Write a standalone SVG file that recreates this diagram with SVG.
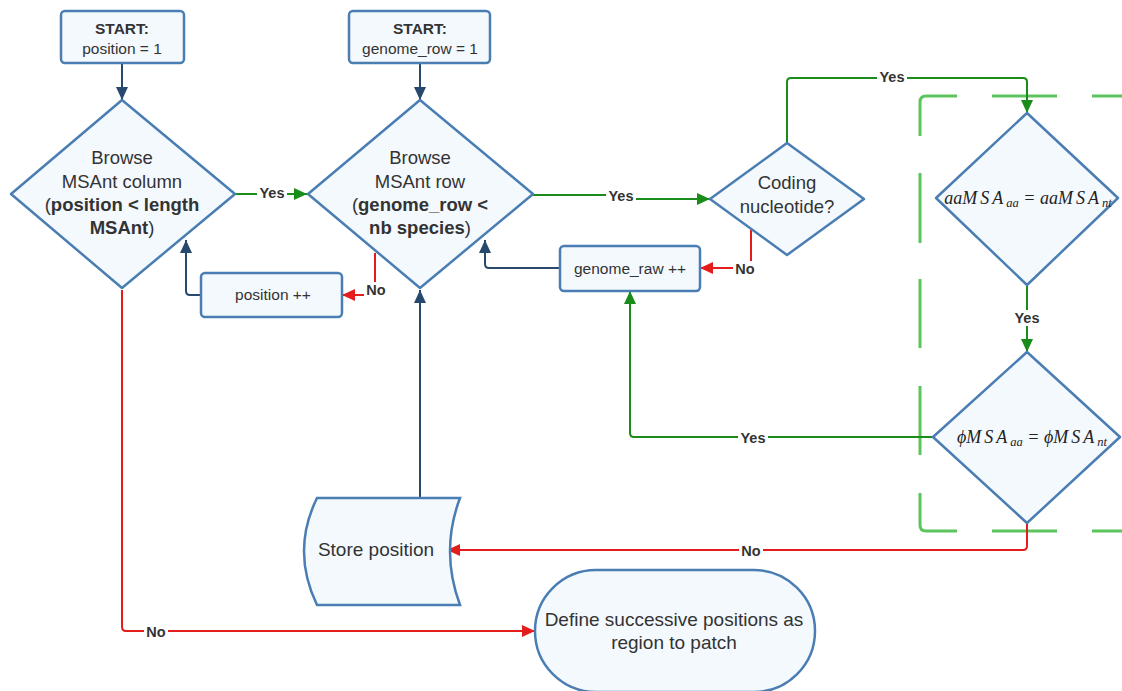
<svg xmlns="http://www.w3.org/2000/svg" width="1122" height="691" viewBox="0 0 1122 691">
<style>
.node{fill:#f4f9fe;stroke:#4a7eb3;stroke-width:2.5}
.t{font-family:"Liberation Sans",Arial,sans-serif;fill:#333;text-anchor:middle}
.big{font-size:18.5px}
.big2{font-size:19px}
.sm{font-size:15.5px}
.b{font-weight:bold}
.lbl{font-family:"Liberation Sans",Arial,sans-serif;font-size:14.5px;font-weight:bold;fill:#333;text-anchor:middle}
.math{font-family:"Liberation Serif","Times New Roman",serif;font-style:italic;font-size:18px;fill:#222;text-anchor:middle}
.sp{letter-spacing:3px}
.sub{font-size:12.5px}
.cb{fill:none;stroke:#27496e;stroke-width:2}
.cg{fill:none;stroke:#1a8c1a;stroke-width:2}
.cr{fill:none;stroke:#e51c1c;stroke-width:2}
.lblbg{fill:#fff}
.dash{fill:none;stroke:#5cc45c;stroke-width:3}
</style>
<defs>
<marker id="ab" markerUnits="userSpaceOnUse" markerWidth="14" markerHeight="12" refX="13" refY="6" orient="auto"><path d="M0,0 L13,6 L0,12 Z" fill="#27496e"/></marker>
<marker id="ag" markerUnits="userSpaceOnUse" markerWidth="14" markerHeight="12" refX="13" refY="6" orient="auto"><path d="M0,0 L13,6 L0,12 Z" fill="#1a8c1a"/></marker>
<marker id="ar" markerUnits="userSpaceOnUse" markerWidth="14" markerHeight="12" refX="13" refY="6" orient="auto"><path d="M0,0 L13,6 L0,12 Z" fill="#e51c1c"/></marker>
</defs>

<g id="group-boundary">
  <path class="dash" d="M920,136 V102 Q920,96 926,96 H957"/>
  <path class="dash" d="M992,96 H1057 M1092,96 H1122"/>
  <path class="dash" d="M920,173 V243 M920,279 V348 M920,386 V455"/>
  <path class="dash" d="M920,493 V525 Q920,531 926,531 H957"/>
  <path class="dash" d="M992,531 H1057 M1092,531 H1122"/>
</g>

<g id="connectors">
  <path class="cb" d="M122,63 V100" marker-end="url(#ab)"/>
  <path class="cb" d="M420,63 V100" marker-end="url(#ab)"/>
  <path class="cg" d="M235,194 H307" marker-end="url(#ag)"/>
  <path class="cb" d="M201,295 H190 Q186,295 186,291 V240" marker-end="url(#ab)"/>
  <path class="cr" d="M375,253 V295 H342" marker-end="url(#ar)"/>
  <path class="cg" d="M533,195 H621 V199 H710" marker-end="url(#ag)"/>
  <path class="cg" d="M787,143 V82 Q787,78 791,78 H1023 Q1027,78 1027,82 V113" marker-end="url(#ag)"/>
  <path class="cr" d="M751,230 V268 H700" marker-end="url(#ar)"/>
  <path class="cb" d="M560,268 H489 Q485,268 485,264 V240" marker-end="url(#ab)"/>
  <path class="cg" d="M1027,285 V352" marker-end="url(#ag)"/>
  <path class="cg" d="M933,437 H634 Q630,437 630,433 V291" marker-end="url(#ag)"/>
  <path class="cr" d="M1027,523 V546 Q1027,550 1023,550 H447" marker-end="url(#ar)"/>
  <path class="cb" d="M420,498 V290" marker-end="url(#ab)"/>
  <path class="cr" d="M122,290 V627 Q122,631 126,631 H535" marker-end="url(#ar)"/>
  <rect class="lblbg" x="257" y="185" width="30" height="16"/>
  <text class="lbl" x="272" y="198">Yes</text>
  <rect class="lblbg" x="364" y="282" width="24" height="15"/>
  <text class="lbl" x="376" y="295">No</text>
  <rect class="lblbg" x="606" y="188" width="30" height="16"/>
  <text class="lbl" x="621" y="201">Yes</text>
  <rect class="lblbg" x="877" y="69" width="30" height="16"/>
  <text class="lbl" x="892" y="82">Yes</text>
  <rect class="lblbg" x="733" y="261" width="24" height="15"/>
  <text class="lbl" x="745" y="274">No</text>
  <rect class="lblbg" x="1012" y="310" width="30" height="16"/>
  <text class="lbl" x="1027" y="323">Yes</text>
  <rect class="lblbg" x="738" y="430" width="30" height="16"/>
  <text class="lbl" x="753" y="443">Yes</text>
  <rect class="lblbg" x="739" y="543" width="24" height="15"/>
  <text class="lbl" x="751" y="556">No</text>
  <rect class="lblbg" x="144" y="624" width="24" height="15"/>
  <text class="lbl" x="156" y="637">No</text>
</g>

<g id="start-position">
  <rect class="node" x="61" y="11" width="123" height="52" rx="4"/>
  <text class="t sm b" x="122" y="34">START:</text>
  <text class="t sm" x="122" y="54">position = 1</text>
</g>
<g id="start-genome-row">
  <rect class="node" x="349" y="11" width="141" height="52" rx="4"/>
  <text class="t sm b" x="420" y="34">START:</text>
  <text class="t sm" x="420" y="54">genome_row = 1</text>
</g>
<g id="browse-column">
  <path class="node" d="M122,100 L235,194 L122,288 L11,194 Z" stroke-linejoin="round"/>
  <text class="t big" x="122" y="164">Browse</text>
  <text class="t big" x="122" y="188">MSAnt column</text>
  <text class="t big" x="122" y="211">(<tspan class="b">position &lt; length</tspan></text>
  <text class="t big" x="122" y="234"><tspan class="b">MSAnt</tspan>)</text>
</g>
<g id="browse-row">
  <path class="node" d="M420,100 L533,194 L420,288 L308,194 Z" stroke-linejoin="round"/>
  <text class="t big" x="420" y="164">Browse</text>
  <text class="t big" x="420" y="188">MSAnt row</text>
  <text class="t big" x="420" y="211">(<tspan class="b">genome_row &lt;</tspan></text>
  <text class="t big" x="420" y="234"><tspan class="b">nb species</tspan>)</text>
</g>
<g id="position-inc">
  <rect class="node" x="201" y="273" width="141" height="44" rx="4"/>
  <text class="t sm" x="273" y="300">position ++</text>
</g>
<g id="coding">
  <path class="node" d="M787,143 L864,199 L787,255 L710,199 Z" stroke-linejoin="round"/>
  <text class="t big" x="787" y="189">Coding</text>
  <text class="t big" x="787" y="213">nucleotide?</text>
</g>
<g id="genome-raw-inc">
  <rect class="node" x="560" y="246" width="140" height="45" rx="4"/>
  <text class="t sm" x="630" y="274">genome_raw ++</text>
</g>
<g id="aa-check">
  <path class="node" d="M1027,113 L1118,198 L1027,285 L936,198 Z" stroke-linejoin="round"/>
  <text class="math" x="1028" y="204">aa<tspan class="sp">MSA</tspan><tspan class="sub" dy="3">aa</tspan><tspan dy="-3"> = aa</tspan><tspan class="sp">MSA</tspan><tspan class="sub" dy="3">nt</tspan></text>
</g>
<g id="phi-check">
  <path class="node" d="M1027,352 L1120,437 L1027,523 L933,437 Z" stroke-linejoin="round"/>
  <text class="math" x="1032" y="443">ϕ<tspan class="sp">MSA</tspan><tspan class="sub" dy="3">aa</tspan><tspan dy="-3"> = ϕ</tspan><tspan class="sp">MSA</tspan><tspan class="sub" dy="3">nt</tspan></text>
</g>
<g id="store-position">
  <path class="node" d="M317,498 H460 Q440,551 460,605 H317 Q291,551 317,498 Z"/>
  <text class="t big2" x="376" y="556">Store position</text>
</g>
<g id="define-region">
  <rect class="node" x="535" y="570" width="280" height="122" rx="61"/>
  <text class="t big2" x="674" y="626">Define successive positions as</text>
  <text class="t big2" x="674" y="649">region to patch</text>
</g>
</svg>
